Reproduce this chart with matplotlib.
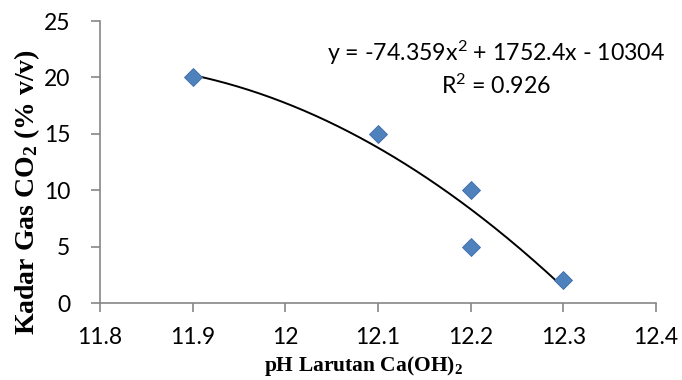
import numpy as np
import matplotlib
matplotlib.use("Agg")
import matplotlib.pyplot as plt

# data
ph = [11.9, 12.1, 12.2, 12.2, 12.3]
co2 = [20, 15, 10, 5, 2]
x_ticks = [11.8, 11.9, 12.0, 12.1, 12.2, 12.3, 12.4]
x_tick_labels = ["11.8", "11.9", "12", "12.1", "12.2", "12.3", "12.4"]
y_ticks = [0, 5, 10, 15, 20, 25]
eq_text = "y = -74.359x$^2$ + 1752.4x - 10304\nR$^2$ = 0.926"

grey = "#868686"
plt.rcParams["mathtext.default"] = "regular"

fig = plt.figure(figsize=(6.82, 3.8), dpi=100)
ax = fig.add_axes([100 / 682, 1 - 303 / 380, 556 / 682, 282 / 380])

# polynomial trendline, order 2
coef = np.polyfit(ph, co2, 2)
xs = np.linspace(min(ph), max(ph), 200)
ax.plot(xs, np.polyval(coef, xs), color="black", lw=1.4, zorder=2)

ax.plot(ph, co2, linestyle="none", marker="D", markersize=9.5,
        color="#4F81BD", markeredgecolor="#3A6BA8", markeredgewidth=0.6, zorder=3)

ax.set_xlim(11.8, 12.4)
ax.set_ylim(0, 25)
ax.set_xticks(x_ticks)
ax.set_xticklabels(x_tick_labels)
ax.set_yticks(y_ticks)

for s in ["top", "right"]:
    ax.spines[s].set_visible(False)
for s in ["left", "bottom"]:
    ax.spines[s].set_color(grey)
    ax.spines[s].set_linewidth(1.2)
ax.tick_params(direction="out", length=6.5, width=1.2, color=grey, labelsize=16.5)
ax.tick_params(axis="x", pad=11)
ax.tick_params(axis="y", pad=15)
for lab in ax.get_xticklabels() + ax.get_yticklabels():
    lab.set_family(["Lato", "DejaVu Sans"])

fig.text(27 / 682, 1 - 192 / 380, "Kadar Gas CO$_2$ (% v/v)", fontsize=20,
         fontweight="bold", family="Liberation Serif", rotation=90,
         ha="center", va="center")
fig.text(363 / 682, 1 - 366 / 380, "pH Larutan Ca(OH)$_2$", fontsize=15.5,
         fontweight="bold", family="Liberation Serif", ha="center", va="center")

ax.text(12.227, 20.8, eq_text, ha="center", va="center", fontsize=16.7,
        family="Lato", linespacing=1.3)

fig.savefig("out.png", dpi=100)
